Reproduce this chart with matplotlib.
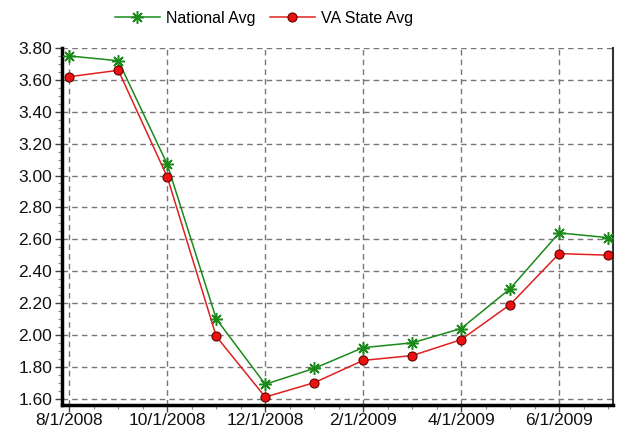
import matplotlib.pyplot as plt
from matplotlib.ticker import MultipleLocator

plt.rcParams['font.family'] = ['Liberation Sans', 'DejaVu Sans']

months = ['8/1/2008', '9/1/2008', '10/1/2008', '11/1/2008', '12/1/2008', '1/1/2009',
          '2/1/2009', '3/1/2009', '4/1/2009', '5/1/2009', '6/1/2009', '7/1/2009']
national = [3.75, 3.72, 3.07, 2.10, 1.69, 1.79, 1.92, 1.95, 2.04, 2.29, 2.64, 2.61]
va_state = [3.62, 3.66, 2.99, 1.99, 1.61, 1.70, 1.84, 1.87, 1.97, 2.19, 2.51, 2.50]

x = list(range(len(months)))

fig = plt.figure(figsize=(6.18, 4.34), dpi=100)
ax = fig.add_axes([62 / 618, 1 - 405 / 434, (613 - 62) / 618, (405 - 48) / 434])

ax.plot(x, national, color='#1a8a1a', linewidth=1.1, marker=(8, 2, 0), markersize=9,
        markeredgewidth=1.1, markeredgecolor='#1a8a1a', label='National Avg', zorder=3)
ax.plot(x, va_state, color='#e02020', linewidth=1.1, marker='o', markersize=6.5,
        markerfacecolor='#ee1111', markeredgecolor='#600000', markeredgewidth=0.8,
        label='VA State Avg', zorder=3)

ax.set_xlim(-0.15, 11.1)
ax.set_ylim(1.56, 3.80)

ax.set_xticks(x[::2])
ax.set_xticklabels(months[::2])
ax.xaxis.set_minor_locator(MultipleLocator(0.5))
ax.yaxis.set_major_locator(MultipleLocator(0.2))
ax.yaxis.set_minor_locator(MultipleLocator(0.05))
ax.yaxis.set_major_formatter(plt.FormatStrFormatter('%.2f'))

ax.tick_params(axis='both', which='major', labelsize=12.5, labelcolor='#111111', length=5, width=1, color='#444444')
ax.tick_params(axis='both', which='minor', length=3, width=0.8, color='#888888')
ax.tick_params(axis='x', pad=1)
ax.tick_params(axis='y', pad=2)

ax.grid(True, which='major', linestyle=(0, (4, 3)), color='#777777', linewidth=1)

ax.spines['top'].set_visible(False)
ax.spines['left'].set_linewidth(2.5)
ax.spines['bottom'].set_linewidth(2.5)
ax.spines['left'].set_color('black')
ax.spines['bottom'].set_color('black')
ax.spines['right'].set_linewidth(1.5)
ax.spines['right'].set_color('#333333')

fig.legend(loc='center', bbox_to_anchor=(264 / 618, 1 - 18 / 434), ncol=2, frameon=False,
           fontsize=11.5, handlelength=2.8, columnspacing=0.9, handletextpad=0.4)

fig.savefig('out.png', dpi=100)
